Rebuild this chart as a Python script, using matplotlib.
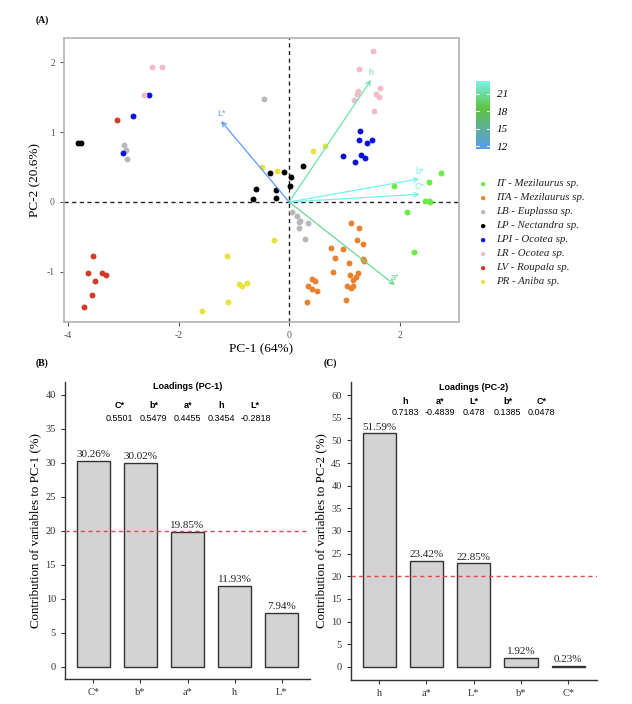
import numpy as np
import matplotlib
matplotlib.use("Agg")
import matplotlib.pyplot as plt
from matplotlib.colors import LinearSegmentedColormap, Normalize
from matplotlib.cm import ScalarMappable

# -----------------------------
# Données
# -----------------------------
species = ["IT - Mezilaurus sp.", "ITA - Mezilaurus sp.", "LB - Euplassa sp.", "LP - Nectandra sp.",
           "LPI - Ocotea sp.", "LR - Ocotea sp.", "LV - Roupala sp.", "PR - Aniba sp."]
species_colors = ["#66ee44", "#e8822e", "#b8b8b8", "#000000", "#0a14dc", "#f4bccb", "#d23a2a", "#e8e23c"]

it_x = [2.75, 2.53, 1.89, 2.45, 2.55, 2.13, 2.25, 2.52]
it_y = [0.41, 0.28, 0.23, 0.02, 0.00, -0.14, -0.71, 0.01]
ita_x = [1.12, 1.26, 1.22, 1.34, 0.76, 0.98, 0.83, 1.08, 1.34, 1.36, 0.79, 1.10, 1.25,
         1.21, 1.15, 1.16, 1.05, 1.12, 1.02, 0.42, 0.46, 0.34, 0.42, 0.50, 0.33]
ita_y = [-0.30, -0.37, -0.54, -0.60, -0.66, -0.68, -0.80, -0.88, -0.82, -0.85, -1.00, -1.04, -1.02,
         -1.08, -1.12, -1.20, -1.21, -1.23, -1.40, -1.10, -1.13, -1.21, -1.25, -1.27, -1.43]
lb_x = [-0.46, -2.99, -2.95, -2.93, 0.05, 0.14, 0.18, 0.20, 0.175, 0.34, 0.28]
lb_y = [1.48, 0.81, 0.74, 0.62, -0.14, -0.20, -0.29, -0.27, -0.37, -0.30, -0.53]
lp_x = [-3.82, -3.76, -0.66, -0.60, -0.34, -0.24, -0.24, -0.085, 0.04, 0.02, 0.25]
lp_y = [0.84, 0.84, 0.04, 0.19, 0.42, 0.17, 0.05, 0.43, 0.36, 0.23, 0.52]
lpi_x = [-2.54, -2.83, -3.00, 1.28, 1.26, 1.40, 1.50, 0.98, 1.30, 1.37, 1.19]
lpi_y = [1.54, 1.23, 0.70, 1.02, 0.89, 0.85, 0.89, 0.66, 0.67, 0.63, 0.57]
lr_x = [-2.48, -2.30, -2.63, 1.51, 1.26, 1.25, 1.22, 1.17, 1.57, 1.65, 1.63, 1.54]
lr_y = [1.94, 1.93, 1.53, 2.16, 1.91, 1.59, 1.55, 1.46, 1.55, 1.63, 1.50, 1.31]
lv_x = [-3.12, -3.55, -3.64, -3.39, -3.31, -3.51, -3.56, -3.70]
lv_y = [1.17, -0.78, -1.02, -1.02, -1.04, -1.13, -1.33, -1.50]
pr_x = [-0.49, -0.22, 0.43, 0.65, -0.27, -1.12, -0.91, -0.85, -0.77, -1.10, -1.57]
pr_y = [0.50, 0.45, 0.73, 0.80, -0.55, -0.77, -1.17, -1.20, -1.16, -1.44, -1.56]

scores_x = [it_x, ita_x, lb_x, lp_x, lpi_x, lr_x, lv_x, pr_x]
scores_y = [it_y, ita_y, lb_y, lp_y, lpi_y, lr_y, lv_y, pr_y]

# vecteurs des variables
var_names = ["C*", "b*", "a*", "h", "L*"]
var_x = [2.36, 2.35, 1.91, 1.48, -1.23]
var_y = [0.11, 0.33, -1.19, 1.75, 1.16]
var_contrib = [22.95, 23.18, 20.72, 21.59, 11.57]

# contributions PC-1
pc1_vars = ["C*", "b*", "a*", "h", "L*"]
pc1_contrib = [30.26, 30.02, 19.85, 11.93, 7.94]
pc1_load_names = ["C*", "b*", "a*", "h", "L*"]
pc1_loadings = ["0.5501", "0.5479", "0.4455", "0.3454", "-0.2818"]

# contributions PC-2
pc2_vars = ["h", "a*", "L*", "b*", "C*"]
pc2_contrib = [51.59, 23.42, 22.85, 1.92, 0.23]
pc2_load_names = ["h", "a*", "L*", "b*", "C*"]
pc2_loadings = ["0.7183", "-0.4839", "0.478", "0.1385", "0.0478"]

W, H = 632, 704
SERIF = ["Liberation Serif", "DejaVu Serif"]
SANS = ["Liberation Sans", "DejaVu Sans"]

cmap = LinearSegmentedColormap.from_list(
    "contrib", [(0.0, "#5b9cf0"), (0.6, "#5cc43e"), (1.0, "#78f2ec")])
norm = Normalize(vmin=min(var_contrib), vmax=max(var_contrib))


def px_rect(left, top, right, bottom):
    return [left / W, 1 - bottom / H, (right - left) / W, (bottom - top) / H]


fig = plt.figure(figsize=(W / 100, H / 100), dpi=100)

# -----------------------------
# (A) biplot
# -----------------------------
ax = fig.add_axes(px_rect(64, 38, 459, 322))
for xs, ys, c in zip(scores_x, scores_y, species_colors):
    ax.scatter(xs, ys, s=18, color=c, linewidths=0, zorder=3)
ax.axhline(0, color="#222222", lw=1.0, ls=(0, (3, 2.5)), zorder=1)
ax.axvline(0, color="#222222", lw=1.0, ls=(0, (3, 2.5)), zorder=1)
for name, vx, vy, v in zip(var_names, var_x, var_y, var_contrib):
    col = cmap(norm(v))
    ax.annotate("", xy=(vx, vy), xytext=(0, 0),
                arrowprops=dict(arrowstyle="->", color=col, lw=0.9,
                                mutation_scale=8, shrinkA=0, shrinkB=0), zorder=4)
    ax.text(vx, vy + 0.11, name, color=col, fontsize=6.5, family=SANS,
            ha="center", va="center", zorder=4)
ax.set_xlim(-4.07, 3.07)
ax.set_ylim(-1.72, 2.35)
ax.set_xticks([-4, -2, 0, 2])
ax.set_yticks([-1, 0, 1, 2])
ax.set_xticklabels(["-4", "-2", "0", "2"])
ax.set_yticklabels(["-1", "0", "1", "2"])
for sp in ax.spines.values():
    sp.set_color("#b3b3b3")
    sp.set_linewidth(1.2)
ax.tick_params(colors="#555555", labelsize=7, length=3, width=0.8)
for lab in ax.get_xticklabels() + ax.get_yticklabels():
    lab.set_family(SERIF)
ax.set_xlabel("PC-1 (64%)", family=SERIF, fontsize=9.5, labelpad=2)
ax.set_ylabel("PC-2 (20.6%)", family=SERIF, fontsize=9.5, labelpad=4)
fig.text(36 / W, 1 - 20 / H, "(A)", family=SERIF, fontsize=7, fontweight="bold", va="center")

# barre de couleur
cax = fig.add_axes(px_rect(476, 81, 490, 149))
sm = ScalarMappable(norm=norm, cmap=cmap)
cb = fig.colorbar(sm, cax=cax, ticks=[12, 15, 18, 21])
cb.outline.set_visible(False)
cax.tick_params(length=0, labelsize=8, pad=5)
for t in [12, 15, 18, 21]:
    cax.plot([0, 0.2], [t, t], color="white", lw=0.7, transform=cax.get_yaxis_transform())
    cax.plot([0.8, 1], [t, t], color="white", lw=0.7, transform=cax.get_yaxis_transform())
for lab in cax.get_yticklabels():
    lab.set_family(SERIF)
    lab.set_style("italic")

# légende
leg_y0 = 184
for i, (name, c) in enumerate(zip(species, species_colors)):
    y = 1 - (leg_y0 + i * 13.9) / H
    fig.text(482 / W, y, "\u25CF", color=c, fontsize=7.5, ha="center", va="center", family=SANS)
    fig.text(496 / W, y, name, fontsize=7.8, family=SERIF, style="italic", va="center", color="#222222")


# -----------------------------
# (B) et (C) contributions
# -----------------------------
def contrib_panel(rect, names, values, load_names, loadings, title, ylim, yticks, ylabel,
                  y_head, y_names, y_vals):
    axb = fig.add_axes(rect)
    pos = np.arange(1, len(names) + 1)
    axb.bar(pos, values, width=0.7, color="#d3d3d3", edgecolor="#333333", linewidth=1.0, zorder=2)
    for p, v in zip(pos, values):
        axb.text(p, v + ylim[1] * 0.006, f"{v:.2f}%", ha="center", va="bottom",
                 family=SERIF, fontsize=8, color="#222222")
    axb.axhline(20, color="#e8484a", lw=1.0, ls=(0, (3, 2.5)), zorder=3)
    axb.text(3, y_head, title, ha="center", va="center", family=SANS, fontsize=6.5, fontweight="bold")
    for i, (n, l) in enumerate(zip(load_names, loadings)):
        xx = 3 + (i - 2) * 0.72
        axb.text(xx, y_names, n, ha="center", va="center", family=SANS, fontsize=6.5, fontweight="bold")
        axb.text(xx, y_vals, l, ha="center", va="center", family=SANS, fontsize=6.5)
    axb.set_xlim(0.4, 5.6)
    axb.set_ylim(*ylim)
    axb.set_xticks(pos)
    axb.set_xticklabels(names)
    axb.set_yticks(yticks)
    for s in ["top", "right"]:
        axb.spines[s].set_visible(False)
    for s in ["left", "bottom"]:
        axb.spines[s].set_color("#333333")
        axb.spines[s].set_linewidth(1.0)
    axb.tick_params(colors="#333333", labelsize=7.5, length=3, width=0.8)
    for lab in axb.get_xticklabels() + axb.get_yticklabels():
        lab.set_family(SERIF)
    axb.set_ylabel(ylabel, family=SERIF, fontsize=9.3, labelpad=3)
    return axb


contrib_panel(px_rect(65, 382, 310, 679), pc1_vars, pc1_contrib, pc1_load_names, pc1_loadings,
              "Loadings (PC-1)", (-1.8, 41.9), np.arange(0, 41, 5),
              "Contribution of variables to PC-1 (%)", 41.2, 38.4, 36.6)
fig.text(36 / W, 1 - 363 / H, "(B)", family=SERIF, fontsize=7, fontweight="bold", va="center")

contrib_panel(px_rect(350.7, 382, 596.7, 680), pc2_vars, pc2_contrib, pc2_load_names, pc2_loadings,
              "Loadings (PC-2)", (-2.9, 62.9), np.arange(0, 61, 5),
              "Contribution of variables to PC-2 (%)", 61.7, 58.7, 56.2)
fig.text(324 / W, 1 - 363 / H, "(C)", family=SERIF, fontsize=7, fontweight="bold", va="center")

fig.savefig("out.png", dpi=100, facecolor="white")
